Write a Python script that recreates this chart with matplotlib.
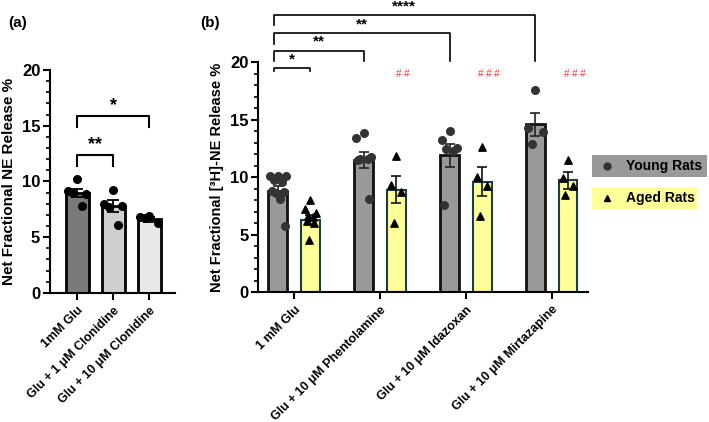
import numpy as np
import matplotlib
matplotlib.use('Agg')
import matplotlib.pyplot as plt
from matplotlib.patches import Rectangle
from matplotlib.lines import Line2D

plt.rcParams['font.family'] = ['Liberation Sans', 'DejaVu Sans']
plt.rcParams['font.weight'] = 'bold'

# ---- panel (a) data ----
a_labels = ['1mM Glu', 'Glu + 1 μM Clonidine', 'Glu + 10 μM Clonidine']
a_means = [9.0, 7.8, 6.6]
a_sem = [0.35, 0.5, 0.2]
a_points = [[10.2, 9.1, 8.9, 9.0, 7.8],
            [9.2, 8.0, 7.8, 7.7, 6.1],
            [6.9, 6.8, 6.3, 6.7]]
a_colors = ['#7a7a7a', '#cfcfcf', '#e8e8e8']
a_sig = [(0, 1, '**'), (0, 2, '*')]
a_sig_y = [12.4, 15.9]

# ---- panel (b) data ----
b_labels = ['1 mM Glu', 'Glu + 10 μM Phentolamine', 'Glu + 10 μM Idazoxan',
            'Glu + 10 μM Mirtazapine']
young_means = [8.8, 11.5, 11.9, 14.6]
young_sem = [0.4, 0.7, 1.0, 1.0]
aged_means = [6.3, 8.9, 9.6, 9.7]
aged_sem = [0.4, 1.2, 1.25, 0.7]
young_points = [[10.1, 10.1, 10.1, 9.7, 9.6, 8.8, 8.7, 8.6, 8.1, 5.7],
                [13.8, 13.4, 11.7, 11.6, 11.6, 11.5, 8.1],
                [14.0, 13.2, 12.5, 12.4, 12.3, 7.6],
                [17.6, 14.3, 13.9, 12.9]]
aged_points = [[8.0, 7.2, 6.9, 6.6, 6.5, 6.2, 6.0, 4.5],
               [11.8, 9.3, 8.7, 6.0],
               [12.6, 10.0, 9.2, 6.6],
               [11.5, 9.9, 9.2, 8.4]]
# brackets: (x group of right end young bar, label); left end is always young 1 mM Glu
b_sig_first = ('*', 19.5)
b_sig = [(1, '**', 21.0), (2, '**', 22.5), (3, '****', 24.1)]
b_hash = ['', '# #', '# # #', '# # #']

fig = plt.figure(figsize=(7.09, 4.22), dpi=100)


def jitter(n, width):
    # spread points across the bar, centre first
    order = [0, -1, 1, -0.5, 0.5, -0.75, 0.75, -0.25, 0.25, 0.9]
    return np.array([order[i % len(order)] for i in range(n)]) * width


def style_axis(ax):
    ax.spines['top'].set_visible(False)
    ax.spines['right'].set_visible(False)
    ax.spines['left'].set_linewidth(1.5)
    ax.spines['bottom'].set_linewidth(1.5)
    ax.set_ylim(0, 20)
    ax.set_yticks([0, 5, 10, 15, 20])
    ax.set_yticks(np.arange(0, 21, 1), minor=True)
    ax.tick_params(axis='y', which='major', length=5, width=1.5, labelsize=12, pad=2)
    ax.tick_params(axis='y', which='minor', length=3, width=1.2)
    ax.tick_params(axis='x', length=5, width=1.5, labelsize=9)
    for t in ax.get_yticklabels():
        t.set_fontweight('bold')


# ---------------- panel (a) ----------------
axa = fig.add_axes([0.0705, 0.306, 0.177, 0.528])
xa = np.arange(len(a_labels))
axa.bar(xa, a_means, width=0.64, color=a_colors, edgecolor='black', linewidth=2, zorder=2)
axa.errorbar(xa, a_means, yerr=a_sem, fmt='none', ecolor='black', elinewidth=1.3,
             capsize=4, capthick=1.3, zorder=3)
for i, pts in enumerate(a_points):
    axa.scatter(xa[i] + jitter(len(pts), 0.25), pts, s=30, color='black', zorder=4)
for (i, j, txt), y in zip(a_sig, a_sig_y):
    axa.plot([xa[i], xa[i], xa[j], xa[j]], [y - 1.0, y, y, y - 1.0], color='black', lw=1.5,
             clip_on=False)
    axa.text((xa[i] + xa[j]) / 2, y + 0.9, txt, ha='center', va='center', fontsize=13,
             fontweight='bold')
axa.set_xlim(-0.75, 2.72)
style_axis(axa)
axa.set_xticks(xa)
axa.set_xticklabels(a_labels, rotation=45, ha='right', rotation_mode='anchor', fontweight='bold')
axa.set_ylabel('Net Fractional NE Release %', fontsize=11, fontweight='bold', labelpad=4)
fig.text(0.012, 0.935, '(a)', fontsize=11, fontweight='bold')

# ---------------- panel (b) ----------------
axb = fig.add_axes([0.364, 0.308, 0.465, 0.545])
xb = np.arange(len(b_labels))
off = 0.19
w = 0.22
axb.bar(xb - off, young_means, width=w, color='#999999', edgecolor='#111111', linewidth=2,
        zorder=2)
axb.bar(xb + off, aged_means, width=w, color='#ffff99', edgecolor='#1e3b4a', linewidth=1.5,
        zorder=2)
axb.errorbar(xb - off, young_means, yerr=young_sem, fmt='none', ecolor='#222222',
             elinewidth=1.2, capsize=3.5, capthick=1.2, zorder=3)
axb.errorbar(xb + off, aged_means, yerr=aged_sem, fmt='none', ecolor='#111111',
             elinewidth=1.2, capsize=3.5, capthick=1.2, zorder=3)
for i in range(len(b_labels)):
    yp = young_points[i]
    ap = aged_points[i]
    axb.scatter(xb[i] - off + jitter(len(yp), 0.09), yp, s=30, color='#333333', zorder=4)
    axb.scatter(xb[i] + off + jitter(len(ap), 0.06), ap, s=28, marker='^', color='black',
                zorder=4)
    if b_hash[i]:
        axb.text(xb[i] + off + 0.08, 19.0, b_hash[i], color='#ff3333', fontsize=7,
                 ha='center', va='center', fontweight='normal')

x0 = xb[0] - off - 0.05
y = b_sig_first[1]
axb.plot([x0, x0, xb[0] + off, xb[0] + off], [y - 0.3, y, y, y - 0.3], color='black', lw=1.2,
         clip_on=False)
axb.text((x0 + xb[0] + off) / 2, y + 0.75, b_sig_first[0], ha='center', va='center',
         fontsize=11, fontweight='bold')
for j, txt, y in b_sig:
    x1 = xb[j] - off
    axb.plot([x0, x0, x1, x1], [y - 0.9, y, y, 20.1], color='black', lw=1.2, clip_on=False)
    axb.text((x0 + x1) / 2, y + 0.75, txt, ha='center', va='center', fontsize=11,
             fontweight='bold')

axb.set_xlim(-0.42, 3.42)
style_axis(axb)
axb.set_xticks(xb)
axb.set_xticklabels(b_labels, rotation=45, ha='right', rotation_mode='anchor', fontweight='bold')
axb.set_ylabel('Net Fractional [³H]-NE Release %', fontsize=10.5, fontweight='bold', labelpad=4)
fig.text(0.282, 0.935, '(b)', fontsize=11, fontweight='bold')

# ---------------- legend ----------------
W, H = 709.0, 422.0
fig.patches.append(Rectangle((592 / W, 1 - 177 / H), 115 / W, 22 / H, transform=fig.transFigure,
                             facecolor='#999999', edgecolor='none', figure=fig))
fig.patches.append(Rectangle((592 / W, 1 - 209 / H), 105 / W, 22 / H, transform=fig.transFigure,
                             facecolor='#ffff99', edgecolor='none', figure=fig))
fig.add_artist(Line2D([607 / W], [1 - 166 / H], marker='o', color='#333333', markersize=5,
                      transform=fig.transFigure))
fig.add_artist(Line2D([607 / W], [1 - 198 / H], marker='^', color='black', markersize=5,
                      transform=fig.transFigure))
fig.text(626 / W, 1 - 166 / H, 'Young Rats', fontsize=10, fontweight='bold', va='center')
fig.text(626 / W, 1 - 198 / H, 'Aged Rats', fontsize=10, fontweight='bold', va='center')

fig.savefig('out.png', dpi=100)
